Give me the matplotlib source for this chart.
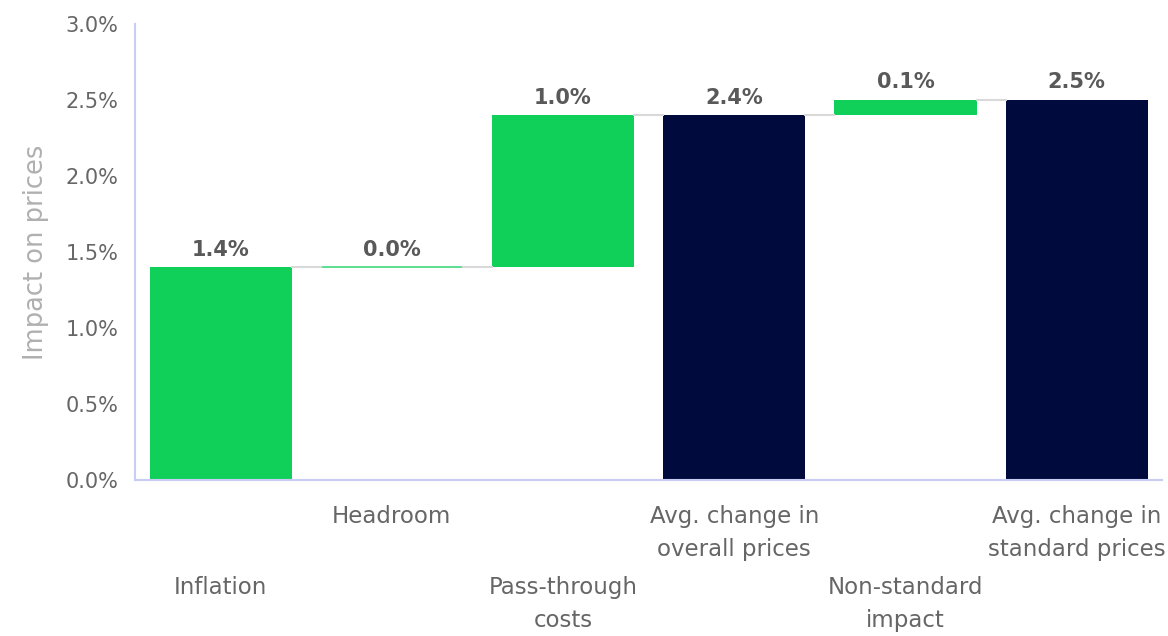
import matplotlib.pyplot as plt
import numpy as np

# ----- data -----
categories = ["Inflation", "Headroom", "Pass-through\ncosts",
              "Avg. change in\noverall prices", "Non-standard\nimpact",
              "Avg. change in\nstandard prices"]
values = [1.4, 0.0, 1.0, 2.4, 0.1, 2.5]
is_total = [False, False, False, True, False, True]
y_ticks = [0.0, 0.5, 1.0, 1.5, 2.0, 2.5, 3.0]

GREEN = "#11d05a"
NAVY = "#000a3c"
SPINE = "#c9cdf4"
TEXT = "#666666"
LABEL = "#595959"

plt.rcParams["font.family"] = ["DejaVu Sans"]

fig = plt.figure(figsize=(11.68, 6.36), dpi=100)
ax = fig.add_axes([0.1156, 0.2453, 0.8795, 0.717])

x = np.arange(len(values))
width = 0.83

# waterfall bases
bases = []
tops = []
running = 0.0
for v, tot in zip(values, is_total):
    if tot:
        bases.append(0.0)
        running = v
    else:
        bases.append(running)
        running = running + v
    tops.append(running)

for i in range(len(values)):
    color = NAVY if is_total[i] else GREEN
    if values[i] == 0:
        # zero change: just a thin line at the running level
        ax.bar(x[i], 0.004, bottom=bases[i] - 0.002, width=width, color=color,
               edgecolor=color, linewidth=1.2, alpha=0.8)
    else:
        ax.bar(x[i], values[i], bottom=bases[i], width=width, color=color)
    ax.text(x[i], tops[i] + 0.05, f"{values[i]:.1f}%", ha="center", va="bottom",
            fontsize=15, fontweight="bold", color=LABEL)

# connectors
for i in range(len(values) - 1):
    ax.plot([x[i] + width / 2, x[i + 1] - width / 2], [tops[i], tops[i]],
            color="#d9d9d9", linewidth=1.5)

ax.set_xlim(-0.5, 5.5)
ax.set_ylim(0, 3.0)
ax.set_yticks(y_ticks)
ax.set_yticklabels([f"{t:.1f}%" for t in y_ticks], fontsize=15, color=TEXT)
ax.tick_params(axis="y", length=0, pad=12)
ax.set_xticks(x)
ax.set_xticklabels(categories, fontsize=16.5, color=TEXT, linespacing=1.55)
ax.tick_params(axis="x", length=0)
for i, tick in enumerate(ax.xaxis.get_major_ticks()):
    tick.set_pad(69 if i % 2 == 0 else 18)

ax.set_ylabel("Impact on prices", fontsize=18.5, color="#b0b0b0", labelpad=12)

for s in ["top", "right"]:
    ax.spines[s].set_visible(False)
for s in ["left", "bottom"]:
    ax.spines[s].set_color(SPINE)
    ax.spines[s].set_linewidth(1.5)

fig.savefig("out.png", dpi=100)
